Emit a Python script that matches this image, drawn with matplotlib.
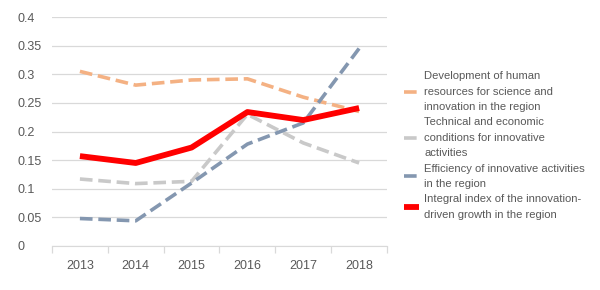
import matplotlib
matplotlib.use("Agg")
import matplotlib.pyplot as plt
from matplotlib import font_manager

plt.rcParams['font.family'] = ['Liberation Sans', 'DejaVu Sans']

years = ["2013", "2014", "2015", "2016", "2017", "2018"]
human = [0.305, 0.281, 0.290, 0.292, 0.260, 0.235]
technical = [0.117, 0.109, 0.113, 0.230, 0.180, 0.145]
efficiency = [0.048, 0.044, 0.110, 0.178, 0.215, 0.345]
integral = [0.157, 0.145, 0.172, 0.234, 0.220, 0.241]
labels = ["Development of human\nresources for science and\ninnovation in the region",
          "Technical and economic\nconditions for innovative\nactivities",
          "Efficiency of innovative activities\nin the region",
          "Integral index of the innovation-\ndriven growth in the region"]
yticks = [0, 0.05, 0.1, 0.15, 0.2, 0.25, 0.3, 0.35, 0.4]
ytick_labels = ["0", "0.05", "0.1", "0.15", "0.2", "0.25", "0.3", "0.35", "0.4"]

fig = plt.figure(figsize=(6, 2.9), dpi=100)
ax = fig.add_axes([52/600, 1-246/290, 335/600, 229/290])
x = list(range(len(years)))
l1, = ax.plot(x, human, color="#F4B183", lw=2.6, dashes=(3.5, 1.6), dash_capstyle='butt')
l2, = ax.plot(x, technical, color="#C9C9C9", lw=2.6, dashes=(3.5, 1.6), dash_capstyle='butt')
l3, = ax.plot(x, efficiency, color="#8497B0", lw=2.6, dashes=(3.5, 1.6), dash_capstyle='butt')
l4, = ax.plot(x, integral, color="#FF0000", lw=4.2, solid_capstyle='butt')

ax.set_xlim(-0.5, len(years) - 0.5)
ax.set_ylim(0, 0.4)
ax.set_yticks(yticks)
ax.set_yticklabels(ytick_labels)
ax.set_xticks(x)
ax.set_xticklabels(years)
ax.set_xticks([i - 0.5 for i in range(len(years) + 1)], minor=True)
ax.grid(axis='y', color="#D9D9D9", lw=0.9)
ax.set_axisbelow(True)
for s in ['top', 'right', 'left']:
    ax.spines[s].set_visible(False)
ax.spines['bottom'].set_color("#D9D9D9")
ax.tick_params(axis='y', length=0, pad=25, labelsize=9, labelcolor="#595959")
for t in ax.get_yticklabels():
    t.set_horizontalalignment('left')
ax.tick_params(axis='x', which='major', length=0, pad=10, labelsize=9, labelcolor="#595959")
ax.tick_params(axis='x', which='minor', length=5, color="#D9D9D9", width=0.9)

leg = fig.legend([l1, l2, l3, l4], labels, loc='upper left', bbox_to_anchor=(404/600, 1-71/290),
                 frameon=False, fontsize=8.1, handlelength=1.35, handletextpad=0.45,
                 labelspacing=0.45, borderaxespad=0, borderpad=0)
for t in leg.get_texts():
    t.set_color("#595959")
    t.set_linespacing(1.7)
fig.savefig("out.png", dpi=100)
